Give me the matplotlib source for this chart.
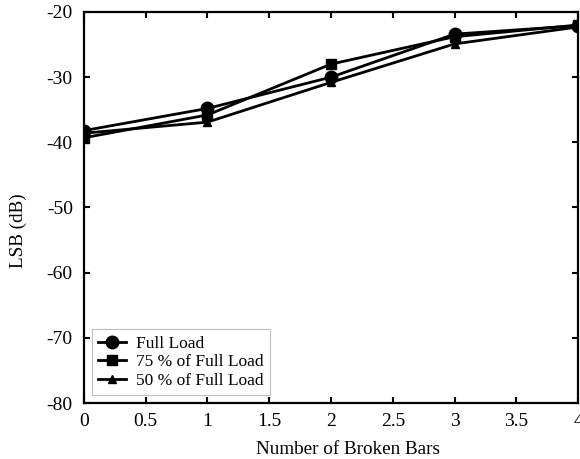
import matplotlib
matplotlib.use("Agg")
import matplotlib.pyplot as plt
from matplotlib.ticker import FormatStrFormatter, FuncFormatter

plt.rcParams['font.family'] = ['Liberation Serif', 'DejaVu Serif']

# LSB amplitude versus number of broken rotor bars
broken_bars = [0, 1, 2, 3, 4]
full_load = [-38.2, -34.8, -30.0, -23.4, -22.1]
load_75 = [-39.3, -35.8, -28.0, -23.8, -22.0]
load_50 = [-38.6, -36.9, -30.8, -24.9, -22.3]

fig = plt.figure(figsize=(5.8, 4.59), dpi=100)
ax = fig.add_axes([0.1448, 0.122, 0.8518, 0.8519])

ax.plot(broken_bars, full_load, color='black', lw=2, marker='o', ms=9,
        label='Full Load')
ax.plot(broken_bars, load_75, color='black', lw=2, marker='s', ms=6.5,
        label='75 % of Full Load')
ax.plot(broken_bars, load_50, color='black', lw=2, marker='^', ms=5.5,
        label='50 % of Full Load')

ax.set_xlim(0, 4)
ax.set_ylim(-80, -20)
ax.set_xticks([0, 0.5, 1, 1.5, 2, 2.5, 3, 3.5, 4])
ax.set_yticks(range(-80, -19, 10))
ax.xaxis.set_major_formatter(FuncFormatter(lambda v, p: f'{v:g}'))
ax.yaxis.set_major_formatter(FormatStrFormatter('%d'))

ax.tick_params(direction='in', length=4, width=1.5, top=True, right=True,
               labelsize=14)
ax.tick_params(axis='x', pad=7)
ax.tick_params(axis='y', pad=8)
for s in ax.spines.values():
    s.set_linewidth(1.6)

ax.set_xlabel('Number of Broken Bars', fontsize=13.8)
ax.set_ylabel('LSB (dB)', fontsize=13.8)
ax.xaxis.set_label_coords(0.535, -0.098)
ax.yaxis.set_label_coords(-0.115, 0.44)

leg = ax.legend(loc='lower left', fontsize=12.5, frameon=True, fancybox=False,
                handlelength=1.6, handletextpad=0.6, borderpad=0.35,
                labelspacing=0.15, borderaxespad=0.45)
leg.get_frame().set_edgecolor('#b0b0b0')
leg.get_frame().set_linewidth(0.8)

fig.savefig('out.png', dpi=100)
